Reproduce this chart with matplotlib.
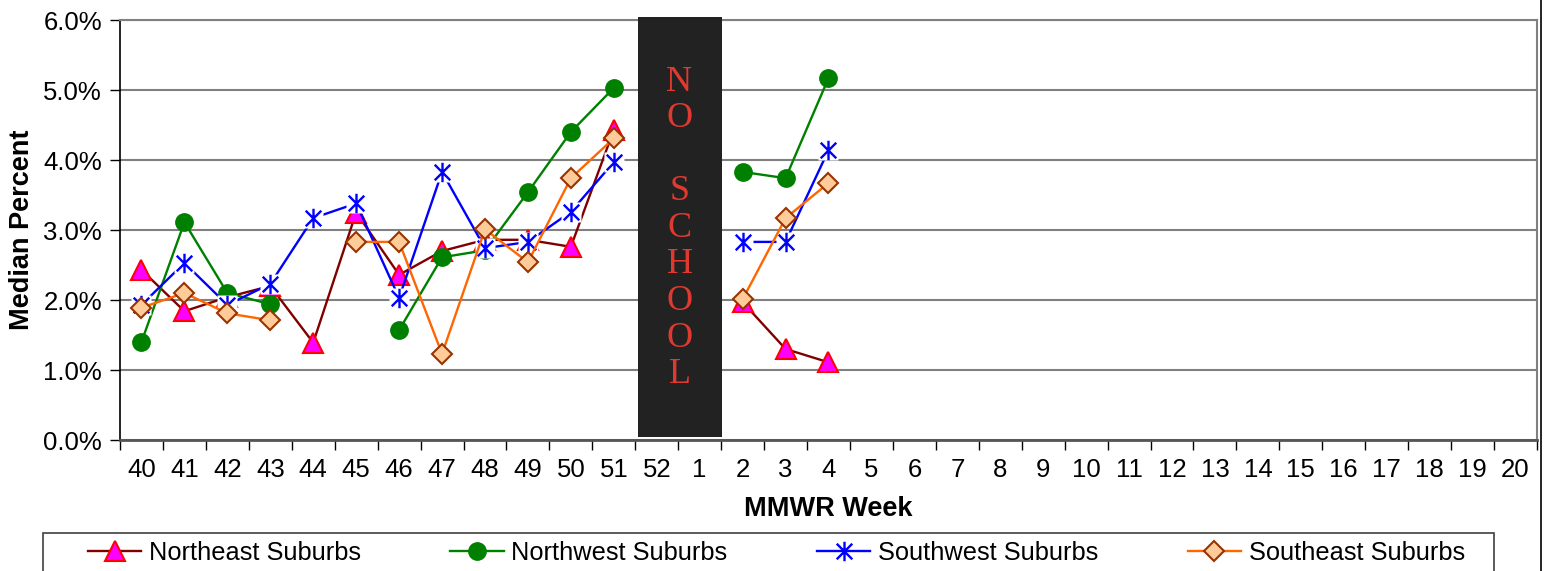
import numpy as np
import matplotlib
matplotlib.use("Agg")
import matplotlib.pyplot as plt
from matplotlib.path import Path
from matplotlib.lines import Line2D
from matplotlib.patches import Rectangle

plt.rcParams['font.family'] = ['Liberation Sans', 'DejaVu Sans']

weeks = [str(w) for w in range(40, 53)] + [str(w) for w in range(1, 21)]
nan = np.nan

# values in percent, one per week (40..52, 1..20)
northeast = [2.43, 1.84, 2.04, 2.20, 1.39, 3.25, 2.36, 2.70, 2.86, 2.86, 2.76, 4.43,
             nan, nan, 1.97, 1.30, 1.11] + [nan] * 16
northwest = [1.40, 3.11, 2.10, 1.94, nan, nan, 1.57, 2.61, 2.71, 3.54, 4.40, 5.03,
             nan, nan, 3.83, 3.74, 5.17] + [nan] * 16
southwest = [1.93, 2.53, 1.93, 2.23, 3.17, 3.38, 2.03, 3.83, 2.74, 2.83, 3.26, 3.97,
             nan, nan, 2.83, 2.83, 4.14] + [nan] * 16
southeast = [1.89, 2.10, 1.81, 1.71, nan, 2.83, 2.83, 1.23, 3.01, 2.54, 3.74, 4.31,
             nan, nan, 2.01, 3.17, 3.67] + [nan] * 16

series_names = ["Northeast Suburbs", "Northwest Suburbs", "Southwest Suburbs", "Southeast Suburbs"]
no_school_weeks = ["52", "1"]
no_school_text = "NO SCHOOL"

W, H = 1549, 571
fig = plt.figure(figsize=(W / 100, H / 100), dpi=100)
ax = fig.add_axes([120 / W, 1 - 440 / H, (1537 - 120) / W, (440 - 20) / H])

x = np.arange(len(weeks))

# star marker (X with vertical bar)
star_path = Path(
    [(-0.8, -0.8), (0.8, 0.8), (-0.8, 0.8), (0.8, -0.8), (0, -1.0), (0, 1.0)],
    [Path.MOVETO, Path.LINETO, Path.MOVETO, Path.LINETO, Path.MOVETO, Path.LINETO])

lw = 1.7
ne_style = dict(color='#800000', lw=lw, marker='^', ms=14, mfc='#ff00ff', mec='#ff0000', mew=1.5)
nw_style = dict(color='#008000', lw=lw, marker='o', ms=12.5, mfc='#008000', mec='#008000')
sw_style = dict(color='#0000ff', lw=lw, marker=star_path, ms=14, mfc='none', mec='#0000ff', mew=1.7)
se_style = dict(color='#ff6600', lw=lw, marker='D', ms=10.5, mfc='#ffcc99', mec='#993300', mew=1.5)

ax.plot(x, northeast, zorder=3, **ne_style)
ax.plot(x, northwest, zorder=4, **nw_style)
ax.plot(x, southwest, color='#0000ff', lw=lw, zorder=5)
ax.plot(x, southwest, ls='none', marker='s', ms=14, mfc='white', mec='none', zorder=5.1)
ax.plot(x, southwest, ls='none', marker=star_path, ms=14, mfc='none',
        mec='#0000ff', mew=1.7, zorder=5.2)
ax.plot(x, southeast, zorder=6, **se_style)

ax.set_xlim(-0.5, len(weeks) - 0.5)
ax.set_ylim(0, 6)
ax.set_yticks(np.arange(0, 7, 1))
ax.set_yticklabels([f"{v:.1f}%" for v in np.arange(0, 7, 1)])
ax.set_xticks(x)
ax.set_xticklabels(weeks)
ax.set_xticks(np.arange(-0.5, len(weeks), 1), minor=True)
ax.tick_params(axis='x', which='major', length=0, pad=13, labelsize=18.5)
ax.tick_params(axis='x', which='minor', length=7, width=1, color='black')
ax.tick_params(axis='y', length=7, width=1, pad=6, labelsize=18.5)

ax.grid(axis='y', color='#808080', lw=1.5, zorder=0)
ax.set_axisbelow(True)
for s in ['top', 'right']:
    ax.spines[s].set_color('#808080')
    ax.spines[s].set_linewidth(1.5)
ax.spines['left'].set_color('black')
ax.spines['left'].set_linewidth(1.2)
ax.spines['bottom'].set_color('#555555')
ax.spines['bottom'].set_linewidth(2)

ax.set_ylabel("Median Percent", fontsize=19.5, fontweight='bold', labelpad=6)
ax.set_xlabel("MMWR Week", fontsize=19.5, fontweight='bold', labelpad=10)

# NO SCHOOL box
i0 = weeks.index(no_school_weeks[0])
i1 = weeks.index(no_school_weeks[1])
rect = Rectangle((i0 - 0.44, 0.043), (i1 - i0) + 0.96, 6.0, facecolor='#222222',
                 edgecolor='none', zorder=7, clip_on=False)
ax.add_patch(rect)
xc = (i0 + i1) / 2 + 0.03
y_top = 0.857 - 0.025
step = 0.0871
for k, ch in enumerate(no_school_text):
    if ch == ' ':
        continue
    ax.text(xc, y_top - k * step, ch, transform=ax.get_xaxis_transform(),
            ha='center', va='baseline', color='#e03a30', fontsize=26,
            family=['Liberation Serif', 'DejaVu Serif'], zorder=8)

# legend
handles = [Line2D([], [], **ne_style), Line2D([], [], **nw_style),
           Line2D([], [], **sw_style), Line2D([], [], **se_style)]
leg = fig.legend(handles, series_names, loc='center left',
                 bbox_to_anchor=(88 / W, 1 - 553 / H),
                 ncol=4, fontsize=18.3, frameon=False,
                 handlelength=2.1, handletextpad=0.3, borderaxespad=0, borderpad=0,
                 columnspacing=3.52)
fig.add_artist(Rectangle((43 / W, -0.05), (1494 - 43) / W, 0.05 + 1 - 533 / H,
                         transform=fig.transFigure, facecolor='none',
                         edgecolor='#404040', lw=1.2))

# outer black border line on right
fig.add_artist(Line2D([1541 / W, 1541 / W], [0, 1], color='black', lw=1.2))

fig.savefig("out.png", dpi=100, facecolor='white')
